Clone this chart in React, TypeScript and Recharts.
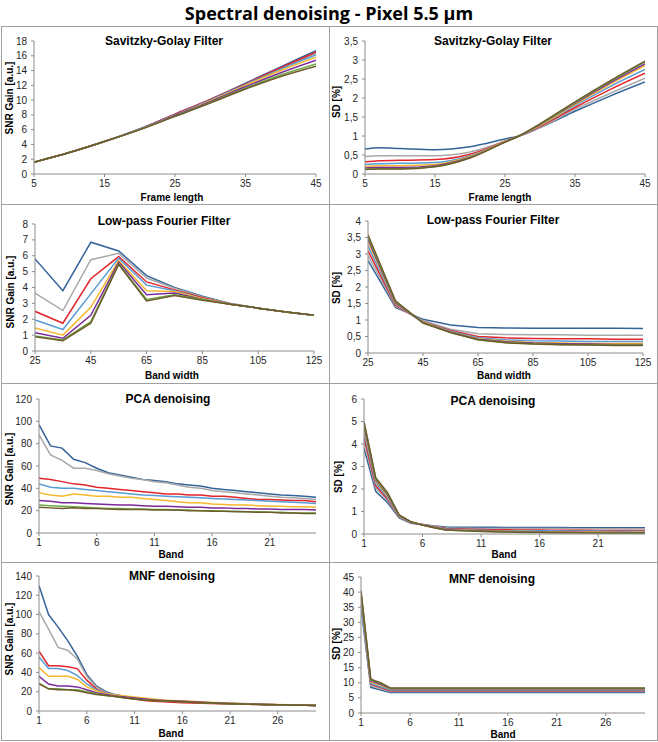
import React from 'react';
import { LineChart, Line, XAxis, YAxis } from 'recharts';

// ---------- series styling ----------
const COLORS = ['#34639A', '#A8A8A8', '#E3242B', '#5A9BD5', '#F5B82E', '#7B2A9C', '#6DAA45', '#6E5B2B'];

// ---------- Savitzky-Golay ----------
const sgSnrX = [5, 10, 15, 20, 25, 30, 35, 40, 45];
const sgSnrSeries: number[][] = [
  [1.6, 2.9, 4.4, 6.1, 8.1, 10.1, 12.3, 14.5, 16.7],
  [1.6, 2.9, 4.4, 6.1, 8.0, 10.0, 12.2, 14.3, 16.3],
  [1.6, 2.9, 4.4, 6.1, 8.1, 10.1, 12.2, 14.4, 16.5],
  [1.6, 2.9, 4.4, 6.1, 8.0, 10.0, 12.1, 14.2, 16.1],
  [1.6, 2.9, 4.4, 6.0, 7.9, 9.9, 12.0, 14.0, 15.8],
  [1.6, 2.9, 4.4, 6.0, 7.9, 9.8, 11.8, 13.7, 15.4],
  [1.6, 2.9, 4.4, 6.0, 7.8, 9.7, 11.6, 13.4, 14.9],
  [1.6, 2.9, 4.4, 6.0, 7.8, 9.6, 11.5, 13.2, 14.6],
];

const sgSdX = [5, 7, 10, 15, 20, 25, 27, 30, 35, 40, 45];
const sgSdSeries: number[][] = [
  [0.66, 0.69, 0.67, 0.64, 0.72, 0.92, 1.0, 1.22, 1.65, 2.05, 2.42],
  [0.46, 0.48, 0.48, 0.48, 0.58, 0.86, 1.0, 1.22, 1.7, 2.12, 2.52],
  [0.32, 0.35, 0.36, 0.38, 0.52, 0.86, 1.0, 1.25, 1.75, 2.22, 2.65],
  [0.25, 0.27, 0.28, 0.3, 0.48, 0.85, 1.0, 1.27, 1.8, 2.3, 2.75],
  [0.2, 0.22, 0.22, 0.25, 0.46, 0.85, 1.0, 1.28, 1.83, 2.36, 2.85],
  [0.16, 0.17, 0.17, 0.22, 0.44, 0.84, 1.0, 1.3, 1.86, 2.4, 2.9],
  [0.13, 0.14, 0.14, 0.2, 0.43, 0.84, 1.0, 1.31, 1.88, 2.43, 2.95],
  [0.12, 0.13, 0.13, 0.19, 0.42, 0.84, 1.0, 1.32, 1.9, 2.45, 2.97],
];

// ---------- Low-pass Fourier ----------
const lpX = [25, 35, 45, 55, 65, 75, 85, 95, 105, 115, 125];
const lpSnrSeries: number[][] = [
  [5.8, 3.8, 6.85, 6.3, 4.75, 4.0, 3.45, 3.0, 2.7, 2.45, 2.25],
  [3.65, 2.55, 5.75, 6.15, 4.6, 3.95, 3.4, 3.0, 2.7, 2.45, 2.25],
  [2.5, 1.75, 4.55, 5.95, 4.35, 3.85, 3.35, 2.95, 2.7, 2.45, 2.25],
  [1.95, 1.35, 3.6, 5.85, 4.15, 3.8, 3.3, 2.95, 2.7, 2.45, 2.25],
  [1.45, 1.0, 2.75, 5.7, 3.8, 3.75, 3.3, 2.95, 2.7, 2.45, 2.25],
  [1.15, 0.8, 2.25, 5.6, 3.55, 3.65, 3.25, 2.95, 2.7, 2.45, 2.25],
  [0.95, 0.7, 1.85, 5.5, 3.25, 3.55, 3.25, 2.95, 2.7, 2.45, 2.25],
  [0.9, 0.65, 1.75, 5.45, 3.15, 3.5, 3.2, 2.95, 2.7, 2.45, 2.25],
];
const lpSdSeries: number[][] = [
  [2.8, 1.38, 1.02, 0.85, 0.77, 0.76, 0.75, 0.75, 0.75, 0.75, 0.74],
  [2.95, 1.42, 0.98, 0.72, 0.58, 0.56, 0.55, 0.55, 0.54, 0.54, 0.54],
  [3.1, 1.45, 0.95, 0.68, 0.5, 0.46, 0.44, 0.43, 0.43, 0.42, 0.42],
  [3.25, 1.48, 0.94, 0.66, 0.46, 0.4, 0.37, 0.36, 0.35, 0.35, 0.35],
  [3.38, 1.5, 0.93, 0.64, 0.43, 0.36, 0.32, 0.3, 0.29, 0.29, 0.29],
  [3.45, 1.52, 0.92, 0.63, 0.42, 0.34, 0.3, 0.28, 0.27, 0.26, 0.26],
  [3.52, 1.55, 0.92, 0.62, 0.4, 0.32, 0.28, 0.26, 0.25, 0.24, 0.24],
  [3.58, 1.58, 0.91, 0.62, 0.4, 0.31, 0.27, 0.25, 0.24, 0.23, 0.23],
];

// ---------- PCA ----------
const pcaX = [1, 2, 3, 4, 5, 6, 7, 8, 9, 10, 11, 12, 13, 14, 15, 16, 17, 18, 19, 20, 21, 22, 23, 24, 25];
const pcaSnrSeries: number[][] = [
  [97, 78, 76, 66, 63, 58, 54, 52, 50, 48, 47, 46, 44, 43, 42, 40, 39, 38, 37, 36, 35, 34, 33.5, 33, 32],
  [88, 70, 65, 58, 58, 56, 53, 51, 49, 48, 46, 45, 43, 41, 40, 38, 37, 36, 35, 34, 33, 32, 31.5, 31, 30],
  [49, 48, 46, 44, 43, 41, 40, 39, 38, 37, 36, 35, 35, 34, 34, 33, 33, 32, 31, 30, 30, 29.5, 29, 29, 28],
  [44, 41, 40, 40, 39, 38, 37, 36, 35, 34, 33.5, 33, 32.5, 32, 31.5, 31, 30.5, 30, 29.5, 29, 28.5, 28, 27.5, 27, 26.5],
  [36, 34, 33, 35, 34, 33, 33, 32, 32, 31, 30, 29, 28, 27, 27, 26, 25.5, 25, 25, 24.5, 24, 24, 23.5, 23.5, 23],
  [29, 28.5, 27, 27, 26.5, 26, 25.5, 25, 25, 24.5, 24, 24, 23.5, 23, 23, 22.5, 22.5, 22, 22, 21.5, 21.5, 21, 21, 21, 20.5],
  [25, 24.5, 24, 23.5, 23, 22.5, 22, 22, 21.5, 21.5, 21, 21, 20.5, 20.5, 20, 20, 19.5, 19.5, 19, 19, 18.5, 18.5, 18, 18, 18],
  [23, 22.5, 22, 22.5, 22, 22, 21.5, 21, 21, 21, 20.5, 20.5, 20.5, 20, 20, 19.5, 19.5, 19, 19, 18.5, 18.5, 18, 18, 17.5, 17.5],
];
const pcaSdSeries: number[][] = [
  [3.8, 1.9, 1.4, 0.72, 0.48, 0.42, 0.36, 0.31, 0.3, 0.3, 0.3, 0.3, 0.29, 0.29, 0.29, 0.29, 0.29, 0.29, 0.28, 0.28, 0.28, 0.28, 0.28, 0.28, 0.28],
  [4.1, 2.05, 1.5, 0.75, 0.5, 0.42, 0.34, 0.27, 0.26, 0.26, 0.25, 0.25, 0.25, 0.24, 0.24, 0.24, 0.24, 0.24, 0.23, 0.23, 0.23, 0.23, 0.23, 0.23, 0.23],
  [4.3, 2.15, 1.56, 0.77, 0.51, 0.41, 0.32, 0.24, 0.22, 0.21, 0.2, 0.19, 0.19, 0.18, 0.18, 0.18, 0.17, 0.17, 0.17, 0.17, 0.16, 0.16, 0.16, 0.16, 0.16],
  [4.5, 2.25, 1.62, 0.78, 0.52, 0.41, 0.31, 0.22, 0.2, 0.18, 0.17, 0.16, 0.15, 0.15, 0.14, 0.14, 0.14, 0.13, 0.13, 0.13, 0.13, 0.12, 0.12, 0.12, 0.12],
  [4.7, 2.35, 1.7, 0.8, 0.53, 0.4, 0.3, 0.2, 0.18, 0.16, 0.14, 0.13, 0.12, 0.11, 0.11, 0.1, 0.1, 0.1, 0.09, 0.09, 0.09, 0.09, 0.08, 0.08, 0.08],
  [4.8, 2.4, 1.75, 0.82, 0.53, 0.4, 0.29, 0.19, 0.17, 0.15, 0.13, 0.12, 0.11, 0.1, 0.09, 0.09, 0.08, 0.08, 0.08, 0.07, 0.07, 0.07, 0.07, 0.06, 0.06],
  [4.9, 2.45, 1.8, 0.84, 0.54, 0.4, 0.28, 0.18, 0.16, 0.14, 0.12, 0.11, 0.1, 0.09, 0.08, 0.08, 0.07, 0.07, 0.06, 0.06, 0.06, 0.06, 0.05, 0.05, 0.05],
  [5.0, 2.5, 1.85, 0.85, 0.55, 0.4, 0.28, 0.18, 0.15, 0.13, 0.11, 0.1, 0.09, 0.08, 0.07, 0.07, 0.06, 0.06, 0.05, 0.05, 0.05, 0.05, 0.04, 0.04, 0.04],
];

// ---------- MNF ----------
const mnfX = [1, 2, 3, 4, 5, 6, 7, 8, 9, 10, 11, 12, 13, 14, 15, 16, 17, 18, 19, 20, 21, 22, 23, 24, 25, 26, 27, 28, 29, 30];
const mnfSnrSeries: number[][] = [
  [130, 100, 87, 73, 57, 38, 26, 20, 17, 15, 13, 12, 11, 10.5, 10, 9.5, 9, 8.5, 8.2, 8, 7.7, 7.5, 7.2, 7, 6.8, 6.6, 6.4, 6.2, 6, 5.8],
  [103, 85, 66, 63, 54, 36, 25, 19, 16.5, 14.5, 13, 12, 11, 10.5, 10, 9.5, 9, 8.5, 8.2, 8, 7.7, 7.5, 7.2, 7, 6.8, 6.6, 6.4, 6.2, 6, 5.8],
  [62, 47, 47, 46, 44, 32, 23, 18, 15, 14, 12.5, 11, 10, 9.5, 9, 8.5, 8.2, 8, 7.7, 7.5, 7.4, 7.2, 7, 6.8, 6.6, 6.4, 6.2, 6, 5.9, 5.8],
  [56, 44, 44, 42, 37, 28, 22, 18, 16, 14.5, 13.5, 12.5, 11.5, 11, 10.5, 10, 9.5, 9, 8.5, 8.2, 8, 7.7, 7.4, 7.1, 6.9, 6.6, 6.4, 6.2, 6, 5.8],
  [45, 36, 36, 36, 33, 25, 21, 18, 16.5, 15.5, 14.5, 13.5, 12.5, 11.5, 11, 10.5, 10, 9.5, 9, 8.6, 8.2, 7.9, 7.6, 7.3, 7, 6.8, 6.5, 6.3, 6.1, 5.9],
  [36, 28, 26, 26, 25, 22, 19, 17, 15.5, 14.5, 13.5, 12.5, 11.5, 11, 10.5, 10, 9.5, 9, 8.6, 8.2, 7.9, 7.6, 7.3, 7, 6.8, 6.6, 6.4, 6.2, 6, 5.8],
  [29, 23, 23, 22, 22, 20, 18, 16, 15, 13.5, 12.5, 11.5, 11, 10.5, 10, 9.5, 9, 8.6, 8.2, 7.9, 7.6, 7.3, 7, 6.8, 6.6, 6.4, 6.2, 6, 5.9, 5.8],
  [28, 23, 22, 22, 21, 19, 17, 16, 15, 13.5, 12.5, 11.5, 11, 10.5, 10, 9.5, 9, 8.6, 8.2, 7.9, 7.6, 7.3, 7, 6.8, 6.6, 6.4, 6.2, 6, 5.9, 5.8],
];
const mnfSdSeries: number[][] = [
  [35, 8.5, 7.6, 6.8, 6.8, 6.8, 6.8, 6.8, 6.8, 6.8, 6.8, 6.8, 6.8, 6.8, 6.8, 6.8, 6.8, 6.8, 6.8, 6.8, 6.8, 6.8, 6.8, 6.8, 6.8, 6.8, 6.8, 6.8, 6.8, 6.8],
  [36, 9.0, 8.0, 7.1, 7.1, 7.1, 7.1, 7.1, 7.1, 7.1, 7.1, 7.1, 7.1, 7.1, 7.1, 7.1, 7.1, 7.1, 7.1, 7.1, 7.1, 7.1, 7.1, 7.1, 7.1, 7.1, 7.1, 7.1, 7.1, 7.1],
  [38, 9.5, 8.4, 7.4, 7.4, 7.4, 7.4, 7.4, 7.4, 7.4, 7.4, 7.4, 7.4, 7.4, 7.4, 7.4, 7.4, 7.4, 7.4, 7.4, 7.4, 7.4, 7.4, 7.4, 7.4, 7.4, 7.4, 7.4, 7.4, 7.4],
  [37, 9.8, 8.7, 7.6, 7.6, 7.6, 7.6, 7.6, 7.6, 7.6, 7.6, 7.6, 7.6, 7.6, 7.6, 7.6, 7.6, 7.6, 7.6, 7.6, 7.6, 7.6, 7.6, 7.6, 7.6, 7.6, 7.6, 7.6, 7.6, 7.6],
  [39, 10.3, 9.2, 7.9, 7.9, 7.9, 7.9, 7.9, 7.9, 7.9, 7.9, 7.9, 7.9, 7.9, 7.9, 7.9, 7.9, 7.9, 7.9, 7.9, 7.9, 7.9, 7.9, 7.9, 7.9, 7.9, 7.9, 7.9, 7.9, 7.9],
  [39.5, 10.6, 9.5, 8.0, 8.0, 8.0, 8.0, 8.0, 8.0, 8.0, 8.0, 8.0, 8.0, 8.0, 8.0, 8.0, 8.0, 8.0, 8.0, 8.0, 8.0, 8.0, 8.0, 8.0, 8.0, 8.0, 8.0, 8.0, 8.0, 8.0],
  [40, 10.9, 9.8, 8.1, 8.1, 8.1, 8.1, 8.1, 8.1, 8.1, 8.1, 8.1, 8.1, 8.1, 8.1, 8.1, 8.1, 8.1, 8.1, 8.1, 8.1, 8.1, 8.1, 8.1, 8.1, 8.1, 8.1, 8.1, 8.1, 8.1],
  [40.5, 11.2, 10.0, 8.3, 8.3, 8.3, 8.3, 8.3, 8.3, 8.3, 8.3, 8.3, 8.3, 8.3, 8.3, 8.3, 8.3, 8.3, 8.3, 8.3, 8.3, 8.3, 8.3, 8.3, 8.3, 8.3, 8.3, 8.3, 8.3, 8.3],
];

// ---------- axis ticks ----------
const sgXTicks = [5, 15, 25, 35, 45];
const lpXTicks = [25, 45, 65, 85, 105, 125];
const pcaXTicks = [1, 6, 11, 16, 21];
const mnfXTicks = [1, 6, 11, 16, 21, 26];
const sgSnrYTicks = [0, 2, 4, 6, 8, 10, 12, 14, 16, 18];
const sgSdYTicks = [0, 0.5, 1, 1.5, 2, 2.5, 3, 3.5];
const lpSnrYTicks = [0, 1, 2, 3, 4, 5, 6, 7, 8];
const lpSdYTicks = [0, 0.5, 1, 1.5, 2, 2.5, 3, 3.5, 4];
const pcaSnrYTicks = [0, 20, 40, 60, 80, 100, 120];
const pcaSdYTicks = [0, 1, 2, 3, 4, 5, 6];
const mnfSnrYTicks = [0, 20, 40, 60, 80, 100, 120, 140];
const mnfSdYTicks = [0, 5, 10, 15, 20, 25, 30, 35, 40, 45];

const FONT = '"Liberation Sans", Arial, sans-serif';
const AXIS_COLOR = '#8c8c8c';
const GRID_COLOR = '#a0a0a0';

type PanelProps = {
  cell: [number, number, number, number];
  plot: [number, number, number, number];
  xs: number[];
  series: number[][];
  xTicks: number[];
  yTicks: number[];
  title: string;
  titlePos: [number, number];
  yLabel: string;
  yLabelPos: [number, number];
  xLabel: string;
  xLabelPos: [number, number];
  comma?: boolean;
  curve?: 'monotone' | 'linear';
};

function buildRows(xs: number[], series: number[][]) {
  return xs.map((x, i) => {
    const row: Record<string, number> = { x };
    series.forEach((s, k) => {
      row['s' + k] = s[i];
    });
    return row;
  });
}

function Panel(p: PanelProps) {
  const [cx, cy, cw, ch] = p.cell;
  const [pl, pt, pr, pb] = p.plot;
  const rows = buildRows(p.xs, p.series);
  const fmt = (v: number) => (p.comma ? String(v).replace('.', ',') : String(v));
  const tickStyle = { fontSize: 10, fill: '#262626', fontFamily: FONT };
  return (
    <>
      <div style={{ position: 'absolute', left: cx, top: cy, width: cw, height: ch }}>
        <LineChart
          width={cw}
          height={ch}
          data={rows}
          margin={{ top: pt - cy, right: cx + cw - pr, bottom: 0, left: 0 }}
        >
          <XAxis
            dataKey="x"
            type="number"
            domain={[p.xTicks[0], p.xs[p.xs.length - 1]]}
            ticks={p.xTicks}
            interval={0}
            height={cy + ch - pb}
            tick={tickStyle}
            tickLine={{ stroke: AXIS_COLOR }}
            axisLine={{ stroke: AXIS_COLOR }}
            tickSize={3}
            tickMargin={3}
            allowDataOverflow
          />
          <YAxis
            type="number"
            domain={[p.yTicks[0], p.yTicks[p.yTicks.length - 1]]}
            ticks={p.yTicks}
            interval={0}
            width={pl - cx}
            tick={tickStyle}
            tickFormatter={fmt}
            tickLine={{ stroke: AXIS_COLOR }}
            axisLine={{ stroke: AXIS_COLOR }}
            tickSize={3}
            tickMargin={4}
            allowDataOverflow
          />
          {p.series.map((_, k) => (
            <Line
              key={k}
              dataKey={'s' + k}
              type={p.curve || 'linear'}
              stroke={COLORS[k]}
              strokeWidth={1.5}
              dot={false}
              isAnimationActive={false}
            />
          ))}
        </LineChart>
      </div>
      <div
        style={{
          position: 'absolute',
          left: p.titlePos[0],
          top: p.titlePos[1],
          transform: 'translate(-50%, -50%)',
          whiteSpace: 'nowrap',
          fontFamily: FONT,
          fontWeight: 700,
          fontSize: 12,
          color: '#000',
        }}
      >
        {p.title}
      </div>
      <div
        style={{
          position: 'absolute',
          left: p.yLabelPos[0],
          top: p.yLabelPos[1],
          transform: 'translate(-50%, -50%) rotate(-90deg)',
          whiteSpace: 'nowrap',
          fontFamily: FONT,
          fontWeight: 700,
          fontSize: 10,
          color: '#000',
        }}
      >
        {p.yLabel}
      </div>
      <div
        style={{
          position: 'absolute',
          left: p.xLabelPos[0],
          top: p.xLabelPos[1],
          transform: 'translate(-50%, -50%)',
          whiteSpace: 'nowrap',
          fontFamily: FONT,
          fontWeight: 700,
          fontSize: 10,
          color: '#000',
        }}
      >
        {p.xLabel}
      </div>
    </>
  );
}

const ROWS_Y = [26, 204, 383, 562, 740];
const COLS_X = [1, 329, 657];

export default function App() {
  const lines: React.ReactNode[] = [];
  ROWS_Y.forEach((y, i) =>
    lines.push(
      <div key={'h' + i} style={{ position: 'absolute', left: COLS_X[0], top: y, width: COLS_X[2] - COLS_X[0] + 1, height: 1, background: GRID_COLOR }} />
    )
  );
  COLS_X.forEach((x, i) =>
    lines.push(
      <div key={'v' + i} style={{ position: 'absolute', left: x, top: ROWS_Y[0], width: 1, height: ROWS_Y[4] - ROWS_Y[0] + 1, background: GRID_COLOR }} />
    )
  );
  const cellW = 327;
  return (
    <div style={{ position: 'relative', width: 658, height: 742, background: '#fff', overflow: 'hidden' }}>
      <style>{'body{margin:0;}'}</style>
      {lines}
      <div
        style={{
          position: 'absolute',
          left: 329,
          top: 13,
          transform: 'translate(-50%, -50%)',
          whiteSpace: 'nowrap',
          fontFamily: '"Open Sans", sans-serif',
          fontWeight: 700,
          fontSize: 18,
          color: '#000',
        }}
      >
        Spectral denoising - Pixel 5.5 µm
      </div>

      <Panel
        cell={[2, 27, cellW, 177]}
        plot={[34, 41, 316, 174]}
        xs={sgSnrX}
        series={sgSnrSeries}
        xTicks={sgXTicks}
        yTicks={sgSnrYTicks}
        title="Savitzky-Golay Filter"
        titlePos={[164, 41]}
        yLabel="SNR Gain [a.u.]"
        yLabelPos={[9, 98]}
        xLabel="Frame length"
        xLabelPos={[172, 197]}
        curve="monotone"
      />
      <Panel
        cell={[330, 27, cellW, 177]}
        plot={[365, 41, 645, 174]}
        xs={sgSdX}
        series={sgSdSeries}
        xTicks={sgXTicks}
        yTicks={sgSdYTicks}
        title="Savitzky-Golay Filter"
        titlePos={[493, 41]}
        yLabel="SD [%]"
        yLabelPos={[336, 102]}
        xLabel="Frame length"
        xLabelPos={[500, 197]}
        comma
        curve="monotone"
      />
      <Panel
        cell={[2, 205, cellW, 178]}
        plot={[35, 224, 314, 351]}
        xs={lpX}
        series={lpSnrSeries}
        xTicks={lpXTicks}
        yTicks={lpSnrYTicks}
        title="Low-pass Fourier Filter"
        titlePos={[164, 221]}
        yLabel="SNR Gain [a.u.]"
        yLabelPos={[10, 292]}
        xLabel="Band width"
        xLabelPos={[172, 375]}
      />
      <Panel
        cell={[330, 205, cellW, 178]}
        plot={[368, 221, 643, 353]}
        xs={lpX}
        series={lpSdSeries}
        xTicks={lpXTicks}
        yTicks={lpSdYTicks}
        title="Low-pass Fourier Filter"
        titlePos={[493, 220]}
        yLabel="SD [%]"
        yLabelPos={[336, 288]}
        xLabel="Band width"
        xLabelPos={[504, 375]}
        comma
      />
      <Panel
        cell={[2, 384, cellW, 178]}
        plot={[39, 399, 316, 533]}
        xs={pcaX}
        series={pcaSnrSeries}
        xTicks={pcaXTicks}
        yTicks={pcaSnrYTicks}
        title="PCA denoising"
        titlePos={[168, 399]}
        yLabel="SNR Gain [a.u.]"
        yLabelPos={[9, 469]}
        xLabel="Band"
        xLabelPos={[171, 554]}
      />
      <Panel
        cell={[330, 384, cellW, 178]}
        plot={[364, 399, 645, 534]}
        xs={pcaX}
        series={pcaSdSeries}
        xTicks={pcaXTicks}
        yTicks={pcaSdYTicks}
        title="PCA denoising"
        titlePos={[493, 401]}
        yLabel="SD [%]"
        yLabelPos={[338, 477]}
        xLabel="Band"
        xLabelPos={[504, 554]}
      />
      <Panel
        cell={[2, 563, cellW, 177]}
        plot={[39, 576, 316, 711]}
        xs={mnfX}
        series={mnfSnrSeries}
        xTicks={mnfXTicks}
        yTicks={mnfSnrYTicks}
        title="MNF denoising"
        titlePos={[172, 576]}
        yLabel="SNR Gain [a.u.]"
        yLabelPos={[9, 639]}
        xLabel="Band"
        xLabelPos={[171, 733]}
      />
      <Panel
        cell={[330, 563, cellW, 177]}
        plot={[361, 577, 645, 713]}
        xs={mnfX}
        series={mnfSdSeries}
        xTicks={mnfXTicks}
        yTicks={mnfSdYTicks}
        title="MNF denoising"
        titlePos={[492, 579]}
        yLabel="SD [%]"
        yLabelPos={[336, 644]}
        xLabel="Band"
        xLabelPos={[503, 734]}
      />
    </div>
  );
}
